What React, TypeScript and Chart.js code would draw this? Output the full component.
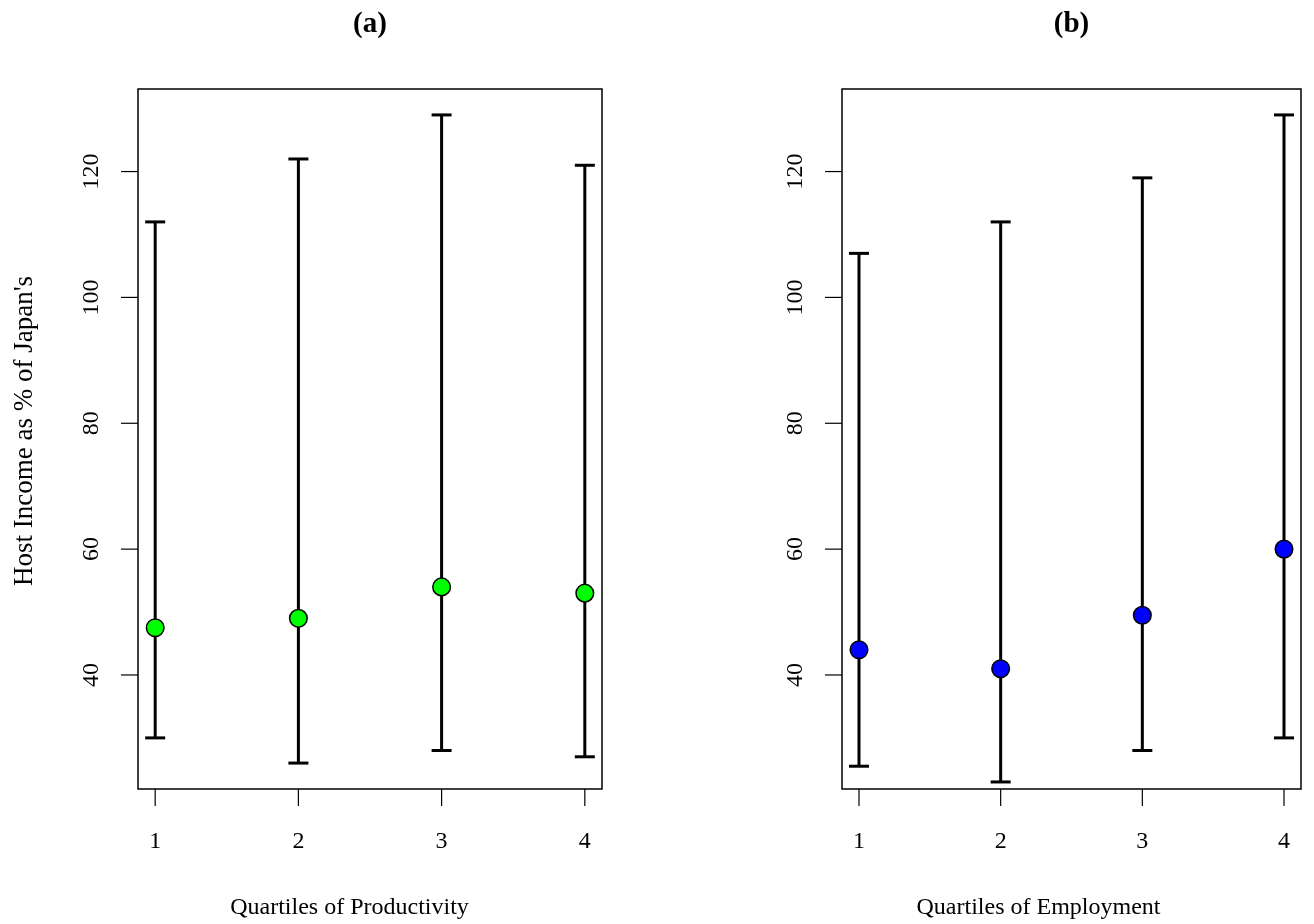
import React, { useEffect, useRef } from "react";
import { Chart, registerables } from "chart.js";

Chart.register(...registerables);

const quartiles = [1, 2, 3, 4];
const xTickValues = [1, 2, 3, 4];
const yTickValues = [40, 60, 80, 100, 120];

const prodMean = [47.5, 49, 54, 53];
const prodLow = [30, 26, 28, 27];
const prodHigh = [112, 122, 129, 121];

const empMean = [44, 41, 49.5, 60];
const empLow = [25.5, 23, 28, 30];
const empHigh = [107, 112, 119, 129];

const panelTitles = ["(a)", "(b)"];
const xTitles = ["Quartiles of Productivity", "Quartiles of Employment"];
const yTitle = "Host Income as % of Japan's";

const Y_MIN = 21.88;
const Y_MAX = 133.12;
const X_MIN = 0.88;
const X_MAX = 4.12;

const FONT = '"Liberation Serif", "Times New Roman", serif';
const W = 657;
const H = 924;

type PanelSpec = {
  mean: number[];
  low: number[];
  high: number[];
  color: string;
  title: string;
  xTitle: string;
  xTitleCenter: number;
  showYTitle: boolean;
  padLeft: number;
  padRight: number;
};

function Panel({ spec, left }: { spec: PanelSpec; left: number }) {
  const ref = useRef<HTMLCanvasElement>(null);
  useEffect(() => {
    const canvas = ref.current!;
    const lineSets = quartiles.map((q, i) => ({
      type: "line" as const,
      data: [
        { x: q, y: spec.low[i] },
        { x: q, y: spec.high[i] },
      ],
      borderColor: "#000",
      borderWidth: 3,
      pointRadius: 0,
      showLine: true,
      order: 3,
    }));
    const caps = {
      type: "scatter" as const,
      data: [
        ...quartiles.map((q, i) => ({ x: q, y: spec.low[i] })),
        ...quartiles.map((q, i) => ({ x: q, y: spec.high[i] })),
      ],
      pointStyle: "line",
      pointRadius: 10,
      borderColor: "#000",
      borderWidth: 3,
      order: 2,
    };
    const points = {
      type: "scatter" as const,
      data: quartiles.map((q, i) => ({ x: q, y: spec.mean[i] })),
      pointStyle: "circle",
      pointRadius: 8.8,
      backgroundColor: spec.color,
      borderColor: "#000",
      borderWidth: 1.5,
      order: 1,
    };

    const decor = {
      id: "decor",
      afterDraw(chart: any) {
        const ctx = chart.ctx as CanvasRenderingContext2D;
        const a = chart.chartArea;
        const xs = chart.scales.x;
        const ys = chart.scales.y;
        ctx.save();
        ctx.strokeStyle = "#000";
        ctx.fillStyle = "#000";
        // box
        ctx.lineWidth = 1.5;
        ctx.strokeRect(a.left, a.top, a.right - a.left, a.bottom - a.top);
        // x ticks
        ctx.lineWidth = 1.2;
        ctx.font = `24px ${FONT}`;
        ctx.textAlign = "center";
        ctx.textBaseline = "alphabetic";
        xTickValues.forEach((v) => {
          const px = xs.getPixelForValue(v);
          ctx.beginPath();
          ctx.moveTo(px, a.bottom);
          ctx.lineTo(px, a.bottom + 17);
          ctx.stroke();
          ctx.fillText(String(v), px, a.bottom + 59);
        });
        // y ticks
        yTickValues.forEach((v) => {
          const py = ys.getPixelForValue(v);
          ctx.beginPath();
          ctx.moveTo(a.left, py);
          ctx.lineTo(a.left - 17, py);
          ctx.stroke();
          ctx.save();
          ctx.translate(a.left - 40, py);
          ctx.rotate(-Math.PI / 2);
          ctx.fillText(String(v), 0, 0);
          ctx.restore();
        });
        // x title
        ctx.fillText(spec.xTitle, spec.xTitleCenter, 914);
        // y title
        if (spec.showYTitle) {
          ctx.save();
          ctx.font = `27px ${FONT}`;
          ctx.translate(32, 431);
          ctx.rotate(-Math.PI / 2);
          ctx.fillText(yTitle, 0, 0);
          ctx.restore();
        }
        // panel title
        ctx.font = `bold 29px ${FONT}`;
        ctx.fillText(spec.title, (a.left + a.right) / 2, 32);
        ctx.restore();
      },
    };

    const chart = new Chart(canvas, {
      type: "scatter",
      data: { datasets: [points, caps, ...lineSets] as any },
      options: {
        responsive: false,
        animation: false,
        devicePixelRatio: 1,
        layout: {
          padding: { left: spec.padLeft, right: spec.padRight, top: 89, bottom: H - 789 },
        },
        plugins: { legend: { display: false }, tooltip: { enabled: false } },
        scales: {
          x: { type: "linear", min: X_MIN, max: X_MAX, display: false },
          y: { type: "linear", min: Y_MIN, max: Y_MAX, display: false },
        },
      } as any,
      plugins: [decor],
    });
    return () => chart.destroy();
  }, [spec]);
  return (
    <canvas
      ref={ref}
      width={W}
      height={H}
      style={{ position: "absolute", left, top: 0, width: W, height: H }}
    />
  );
}

const specA: PanelSpec = {
  mean: prodMean,
  low: prodLow,
  high: prodHigh,
  color: "#00FF00",
  title: panelTitles[0],
  xTitle: xTitles[0],
  xTitleCenter: 349.5,
  showYTitle: true,
  padLeft: 138,
  padRight: W - 602,
};

const specB: PanelSpec = {
  mean: empMean,
  low: empLow,
  high: empHigh,
  color: "#0000FF",
  title: panelTitles[1],
  xTitle: xTitles[1],
  xTitleCenter: 1038.5 - W,
  showYTitle: false,
  padLeft: 842 - W,
  padRight: W - (1306 - W),
};

export default function App() {
  return (
    <div
      style={{
        position: "absolute",
        left: 0,
        top: 0,
        width: 1314,
        height: 924,
        background: "#fff",
      }}
    >
      <Panel spec={specA} left={0} />
      <Panel spec={specB} left={W} />
    </div>
  );
}
